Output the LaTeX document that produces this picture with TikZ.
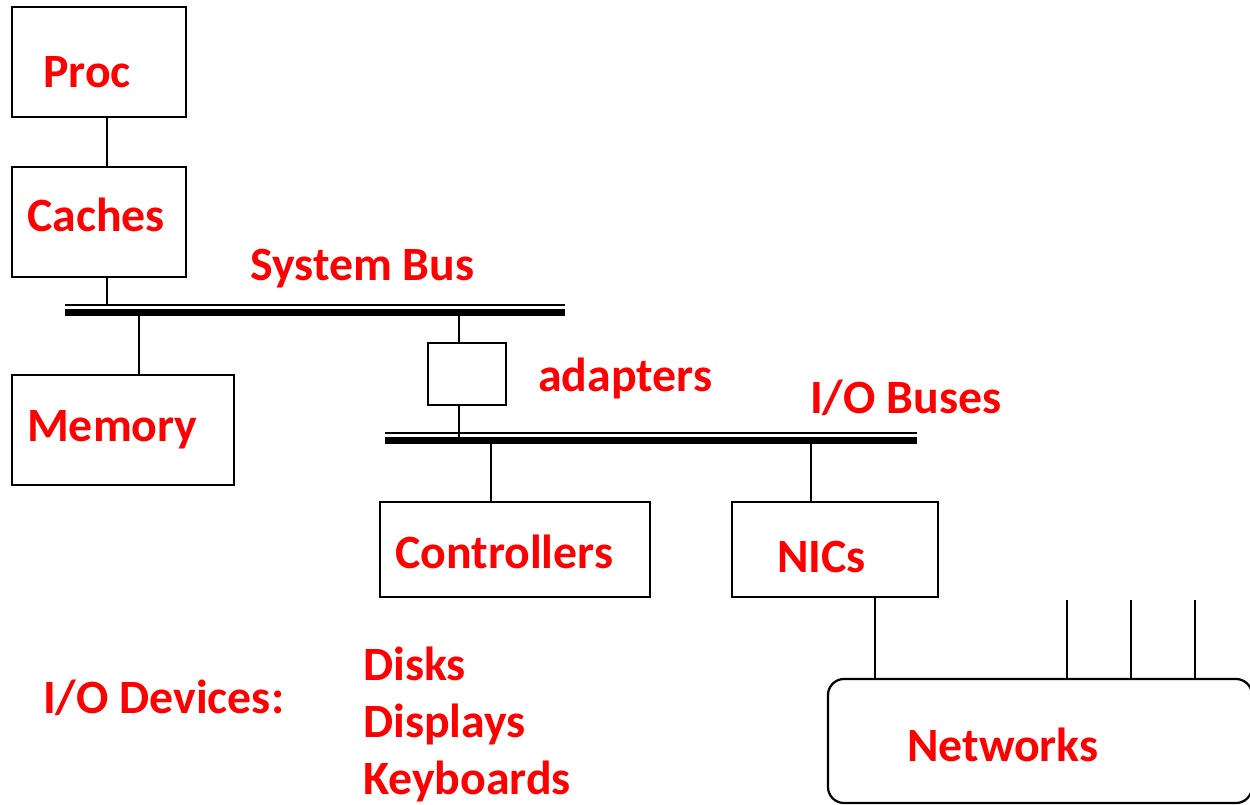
\documentclass[tikz,border=0pt]{standalone}
\usepackage{fontspec}
\setmainfont{Carlito}
\begin{document}
\begin{tikzpicture}[x=1pt,y=-1pt,
  box/.style={draw,line width=2.2pt},
  wire/.style={line width=1.8pt},
  lbl/.style={anchor=base west,inner sep=0pt,text=red,font=\fontsize{47.8}{56}\selectfont\bfseries},
  thinbus/.style={line width=1.8pt},
  thickbus/.style={line width=6.8pt}]
\useasboundingbox (0,0) rectangle (1250,805);
% boxes
\draw[box] (12,7) rectangle (186,117);
\coordinate (procB) at (107,117);
\coordinate (cacheT) at (107,167);
\draw[box] (12,167) rectangle (186,277);
\coordinate (cacheB) at (107,277);
\draw[box] (12,375) rectangle (234,485);
\draw[box] (428,343) rectangle (506,405);
\draw[box] (380,502) rectangle (650,597);
\draw[box] (732,502) rectangle (938,597);
\draw[box,rounded corners=16pt] (828,679) rectangle (1252,803);
% buses
\coordinate (sbL) at (65,305); \coordinate (sbR) at (565,305);
\coordinate (SbL) at (65,312.7); \coordinate (SbR) at (565,312.7);
\draw[thinbus] (sbL) -- (sbR);
\draw[thickbus] (SbL) -- (SbR);
\coordinate (ibL) at (385,433.3); \coordinate (ibR) at (917,433.3);
\coordinate (IbL) at (385,440.7); \coordinate (IbR) at (917,440.7);
\draw[thinbus] (ibL) -- (ibR);
\draw[thickbus] (IbL) -- (IbR);
% wires
\draw[wire] (procB) -- (cacheT);
\draw[wire] (cacheB) -- (107,305);
\draw[wire] (139,316) -- (139,375);
\draw[wire] (459,316) -- (459,343);
\draw[wire] (459,405) -- (459,437);
\draw[wire] (491,444) -- (491,502);
\draw[wire] (811,444) -- (811,502);
\draw[wire] (875,597) -- (875,679);
\draw[wire] (1067,600) -- (1067,679);
\draw[wire] (1131,600) -- (1131,679);
\draw[wire] (1195,600) -- (1195,679);
% labels
\node[lbl] (proc) at (43,88) {Proc};
\node[lbl] (caches) at (27,232) {Caches};
\node[lbl] (sysbus) at (250,280) {System Bus};
\node[lbl] (mem) at (27,441) {Memory};
\node[lbl] (adapt) at (538,391) {adapters};
\node[lbl] (iobus) at (810,413) {I/O Buses};
\node[lbl] (ctrl) at (395,568) {Controllers};
\node[lbl] (nics) at (777,572) {NICs};
\node[lbl] (iodev) at (43,713) {I/O Devices:};
\node[lbl] (disks) at (363,680) {Disks};
\node[lbl] (disp) at (363,737) {Displays};
\node[lbl] (keyb) at (363,794) {Keyboards};
\node[lbl] (net) at (907,761) {Networks};
\end{tikzpicture}
\end{document}
